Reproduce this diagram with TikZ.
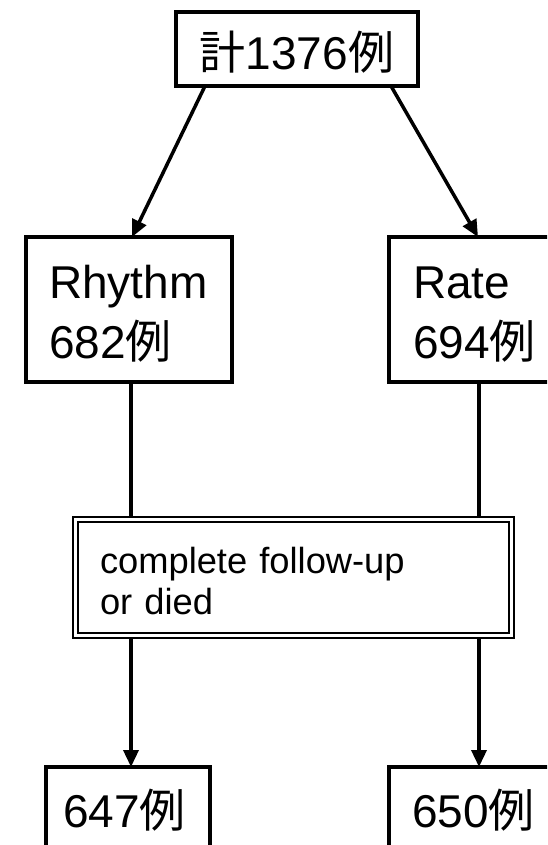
\documentclass[tikz,border=0pt]{standalone}
\usepackage{fontspec}
\setmainfont{Liberation Sans}
\newfontfamily\cjkfont{Noto Sans CJK JP}
\newcommand\jpc[1]{{\cjkfont #1}}
\usetikzlibrary{arrows.meta,calc}
\begin{document}
\begin{tikzpicture}[x=1pt,y=-1pt,
  box/.style={draw, line width=4pt, inner sep=0pt, outer sep=0pt,
    font=\fontsize{46}{60}\selectfont},
  conn/.style={line width=3.5pt},
  arr/.style={conn, -{Triangle[length=17pt,width=15pt]}},
  ]
\useasboundingbox (0,0) rectangle (547,845);
\clip (0,0) rectangle (547,845);
\fill[white] (0,0) rectangle (547,845);
% boxes
\node[box, minimum width=242pt, minimum height=74pt] (top) at (297,49)
  {\rule{0pt}{45pt}\jpc{計}1376\jpc{例}};
\node[box, minimum width=206pt, minimum height=145pt, inner xsep=23pt,
  text width=160pt, align=left] (rhythm) at (129,309.5)
  {\rule{0pt}{41pt}Rhythm\\682\jpc{例}};
\node[box, minimum width=206pt, minimum height=145pt, inner xsep=24pt,
  text width=158pt, align=left] (rate) at (492,309.5)
  {\rule{0pt}{41pt}Rate\\694\jpc{例}};
\node[draw, double, line width=2pt, double distance=3pt, inner sep=0pt,
  outer sep=0pt, minimum width=435.5pt, minimum height=116pt,
  inner xsep=24.5pt, text width=386.5pt, align=left,
  font=\fontsize{36.3}{41}\selectfont] (mid) at (293.25,577.5)
  {\rule{0pt}{34pt}complete follow-up\\or died};
\node[box, minimum width=164pt, minimum height=86pt, inner xsep=17pt,
  text width=130pt, align=left] (botL) at (128,810) {647\jpc{例}};
\node[box, minimum width=164pt, minimum height=86pt, inner xsep=23pt,
  text width=118pt, align=left] (botR) at (471,810) {650\jpc{例}};
% connectors
\draw[arr] ($(top.south)+(-92,0)$) -- ($(rhythm.north)+(3,0)$);
\draw[arr] ($(top.south)+(94,0)$) -- ($(rate.north)+(-14,0)$);
\draw[conn] ($(rhythm.south)+(2,0)$) -- ($(rhythm.south |- mid.north)+(2,-3.5)$);
\draw[conn] ($(rate.south)+(-13,0)$) -- ($(rate.south |- mid.north)+(-13,-3.5)$);
\draw[arr] ($(mid.south -| rhythm.south)+(2,3.5)$) -- ($(botL.north)+(3,0)$);
\draw[arr] ($(mid.south -| rate.south)+(-13,3.5)$) -- ($(botR.north)+(8,0)$);
\end{tikzpicture}
\end{document}
